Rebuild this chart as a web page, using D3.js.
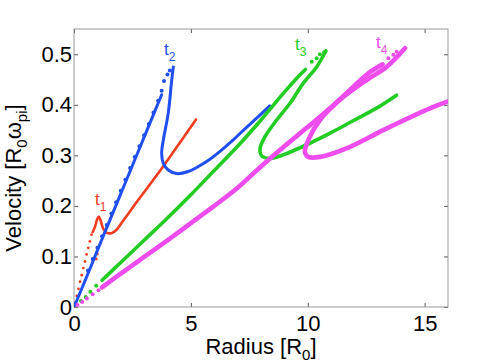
<!DOCTYPE html>
<html>
<head>
<meta charset="utf-8">
<script src="https://cdn.jsdelivr.net/npm/d3@7"></script>
<style>
  body { margin: 0; background: #fff; }
  svg { display: block; font-family: "Liberation Sans", Arial, Helvetica, sans-serif; }
</style>
</head>
<body>
<svg></svg>
<script>
// x: radius [R0], y: velocity [R0 w_pi]

const xTicks = [0, 5, 10, 15];
const yTicks = [0, 0.1, 0.2, 0.3, 0.4, 0.5];

// t1 (red)
const redDots = [[0.05,0.008],[0.12,0.022],[0.19,0.036],[0.26,0.05],[0.33,0.063],[0.4,0.077],
  [0.47,0.09],[0.54,0.104],[0.61,0.117],[0.68,0.13],[0.75,0.143],[0.95,0.095],[1.0,0.105]];
const redLine = [[0.8,0.148],[0.9,0.159],[0.98,0.172],[1.06,0.179],[1.14,0.171],[1.25,0.155],
  [1.4,0.147],[1.6,0.146],[1.8,0.152],[2.0,0.164],[2.3,0.183],[2.8,0.215],[3.5,0.258],
  [4.3,0.31],[5.22,0.371]];

// t2 (blue)
const blueLine = [[0,0],[0.5,0.055],[1.0,0.112],[1.5,0.168],[2.0,0.224],[2.5,0.28],[3.0,0.336],
  [3.5,0.392],[3.75,0.42]];
const blueDots = [[0.6,0.072],[0.8,0.095],[1.0,0.117],[1.2,0.14],[1.4,0.162],[1.6,0.185],
  [1.8,0.207],[2.0,0.23],[2.2,0.252],[2.4,0.275],[2.6,0.297],[2.8,0.318],[3.0,0.34],
  [3.2,0.362],[3.4,0.385],[3.6,0.408],[3.75,0.428],[3.85,0.447],[4.0,0.46],[4.1,0.468]];
const blueLoop = [[4.25,0.475],[4.18,0.449],[4.03,0.383],[3.82,0.33],[3.75,0.304],[3.82,0.284],
  [4.03,0.271],[4.39,0.264],[4.89,0.268],[5.32,0.278],[5.8,0.292],[6.3,0.31],[6.8,0.33],
  [7.3,0.352],[7.8,0.373],[8.37,0.398]];

// t3 (green)
const greenDots = [[0.3,0.012],[0.5,0.02],[0.7,0.03],[0.95,0.042],[10.17,0.485],[10.38,0.492],
  [10.52,0.5],[10.7,0.504]];
const greenLine = [[1.2,0.053],[2,0.088],[3,0.132],[4,0.176],[5,0.222],[6,0.27],[7,0.318],
  [8,0.37],[9,0.425],[9.6,0.456],[9.9,0.47]];
const greenLoop = [[10.78,0.507],[10.38,0.475],[9.81,0.443],[9.24,0.403],[8.67,0.37],[8.17,0.337],
  [7.96,0.314],[8.03,0.299],[8.39,0.294],[9.0,0.302],[10.0,0.322],[11.0,0.345],[12.0,0.37],
  [13.0,0.395],[13.8,0.419]];

// t4 (magenta)
const magDots = [[0.15,0.004],[0.35,0.01],[0.55,0.017],[0.8,0.025],[1.05,0.033],[13.45,0.492],
  [13.66,0.499],[13.8,0.505]];
const magLine = [[1.2,0.039],[2,0.066],[3,0.099],[4,0.132],[5,0.166],[6,0.2],[7,0.236],
  [8,0.278],[9,0.318],[10,0.356],[11,0.395],[12,0.438],[12.7,0.466],[13.2,0.48]];
const magLoop = [[14.16,0.512],[13.37,0.475],[12.52,0.449],[11.38,0.41],[10.52,0.37],[10.02,0.33],
  [9.88,0.307],[10.02,0.297],[10.52,0.297],[11.81,0.317],[13.23,0.35],[15.23,0.393],[16.2,0.41]];

// curve labels, anchored in data units
const tags = [
  { name: "t", sub: "1", x: 0.9, y: 0.202, color: "#f23c1e" },
  { name: "t", sub: "2", x: 3.85, y: 0.499, color: "#1f4ff0" },
  { name: "t", sub: "3", x: 9.45, y: 0.508, color: "#22cc22" },
  { name: "t", sub: "4", x: 12.92, y: 0.512, color: "#ee4cee" }
];

const width = 485;
const height = 364;
const mLeft = 74, mRight = 448, mTop = 29, mBottom = 307;

const x = d3.scaleLinear().domain([0, 16]).range([mLeft, mRight]);
const y = d3.scaleLinear().domain([0, 0.55]).range([mBottom, mTop]);

const svg = d3.select("svg")
    .attr("width", width)
    .attr("height", height);

svg.append("defs").append("clipPath")
    .attr("id", "plot")
  .append("rect")
    .attr("x", mLeft).attr("y", mTop)
    .attr("width", mRight - mLeft).attr("height", mBottom - mTop);

// Axes
const xAxis = d3.axisBottom(x).tickValues(xTicks).tickSize(-4).tickPadding(8).tickFormat(d => d);
const yAxis = d3.axisLeft(y).tickValues(yTicks).tickSize(-4).tickPadding(2).tickFormat(d => d);

function styleAxis(g) {
  g.select(".domain").remove();
  g.selectAll(".tick line").attr("stroke", "#555");
  g.selectAll(".tick text").attr("font-size", 22).attr("fill", "#000")
    .attr("font-family", "Liberation Sans, Arial, sans-serif");
}

svg.append("g")
    .attr("transform", `translate(0, ${mBottom})`)
    .call(xAxis).call(styleAxis);
svg.append("g")
    .attr("transform", `translate(${mLeft}, 0)`)
    .call(yAxis).call(styleAxis);
svg.append("g")
    .attr("transform", `translate(0, ${mTop})`)
    .call(d3.axisTop(x).tickValues(xTicks).tickSize(-4).tickFormat(""))
    .call(styleAxis);
svg.append("g")
    .attr("transform", `translate(${mRight}, 0)`)
    .call(d3.axisRight(y).tickValues(yTicks).tickSize(-4).tickFormat(""))
    .call(styleAxis);

svg.append("rect")
    .attr("x", mLeft).attr("y", mTop)
    .attr("width", mRight - mLeft).attr("height", mBottom - mTop)
    .attr("fill", "none")
    .attr("stroke", "#999")
    .attr("stroke-width", 1);

// Curves
const line = d3.line()
    .x(d => x(d[0]))
    .y(d => y(d[1]))
    .curve(d3.curveCatmullRom.alpha(0.5));

const plot = svg.append("g").attr("clip-path", "url(#plot)");

const series = [
  { lines: [redLine], dots: redDots, color: "#f23c1e", w: 2.6, r: 1.4 },
  { lines: [blueLine, blueLoop], dots: blueDots, color: "#1f4ff0", w: 3, r: 2 },
  { lines: [greenLine, greenLoop], dots: greenDots, color: "#22cc22", w: 3.6, r: 2 },
  { lines: [magLine, magLoop], dots: magDots, color: "#ee4cee", w: 4.6, r: 2 }
];

series.forEach(s => {
  s.lines.forEach(pts => {
    plot.append("path")
        .datum(pts)
        .attr("d", line)
        .attr("fill", "none")
        .attr("stroke", s.color)
        .attr("stroke-width", s.w)
        .attr("stroke-linecap", "round")
        .attr("stroke-linejoin", "round");
  });
  plot.append("g")
    .selectAll("circle")
    .data(s.dots)
    .enter()
    .append("circle")
      .attr("cx", d => x(d[0]))
      .attr("cy", d => y(d[1]))
      .attr("r", s.r)
      .attr("fill", s.color);
});

// t labels
const tag = svg.append("g")
  .selectAll("text")
  .data(tags)
  .enter()
  .append("text")
    .attr("x", d => x(d.x))
    .attr("y", d => y(d.y))
    .attr("fill", d => d.color)
    .attr("font-size", 17);
tag.append("tspan").text(d => d.name);
tag.append("tspan").attr("font-size", 12).attr("dy", 6).text(d => d.sub);

// Axis titles
const xLabel = svg.append("text")
    .attr("x", (mLeft + mRight) / 2)
    .attr("y", 354)
    .attr("text-anchor", "middle")
    .attr("font-size", 22);
xLabel.append("tspan").text("Radius [R");
xLabel.append("tspan").attr("font-size", 15).attr("dy", 6).text("0");
xLabel.append("tspan").attr("dy", -6).text("]");

const yLabel = svg.append("text")
    .attr("transform", `translate(21, 178) rotate(-90)`)
    .attr("text-anchor", "middle")
    .attr("font-size", 22);
yLabel.append("tspan").text("Velocity [R");
yLabel.append("tspan").attr("font-size", 15).attr("dy", 6).text("0");
yLabel.append("tspan").attr("dy", -6).text("ω");
yLabel.append("tspan").attr("font-size", 15).attr("dy", 6).text("pi");
yLabel.append("tspan").attr("dy", -6).text("]");
</script>
</body>
</html>
